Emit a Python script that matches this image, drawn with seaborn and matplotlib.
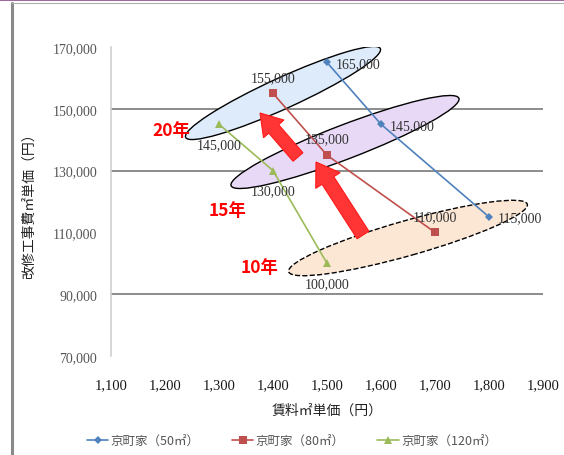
import numpy as np
import pandas as pd
import matplotlib
matplotlib.use("Agg")
import matplotlib.pyplot as plt
import seaborn as sns
from matplotlib.patches import Ellipse, FancyArrow
from matplotlib.lines import Line2D
from matplotlib.ticker import FuncFormatter

# ---------------- data ----------------
series_names = ["京町家（50㎡）", "京町家（80㎡）", "京町家（120㎡）"]
rent_50 = [1500, 1600, 1800]
cost_50 = [165000, 145000, 115000]
rent_80 = [1400, 1500, 1700]
cost_80 = [155000, 135000, 110000]
rent_120 = [1300, 1400, 1500]
cost_120 = [145000, 130000, 100000]
period_labels = ["20年", "15年", "10年"]
x_ticks = [1100, 1200, 1300, 1400, 1500, 1600, 1700, 1800, 1900]
y_ticks = [70000, 90000, 110000, 130000, 150000, 170000]
x_label = "賃料㎡単価（円）"
y_label = "改修工事費㎡単価（円）"

# ---------------- style ----------------
W, H = 564, 456
sns.set_theme(style="white")
plt.rcParams["font.family"] = ["Liberation Serif", "Noto Sans CJK JP", "DejaVu Sans"]
colors = ["#4f81bd", "#c0504d", "#9bbb59"]
markers = ["D", "s", "^"]
msizes = [4.5, 5.5, 6]

rows = []
for name, xs, ys in zip(series_names, [rent_50, rent_80, rent_120], [cost_50, cost_80, cost_120]):
    for x, y in zip(xs, ys):
        rows.append({"series": name, "rent": x, "cost": y})
df = pd.DataFrame(rows)

fig, ax = plt.subplots(figsize=(W / 100, H / 100), dpi=100)
fig.subplots_adjust(left=111 / W, right=543 / W, top=1 - 48 / H, bottom=1 - 357 / H)

def px(x, y):
    return (x / 100, (H - y) / 100)

# ellipses (drawn in pixel space so the rotation is exact)
ell_specs = [  # center, length, thickness, angle, face, linestyle
    ((283, 94), 214, 31, 24.5, "#deebfb", "-"),
    ((345, 143), 244, 34, 21.0, "#e8daf7", "-"),
    ((408, 239), 248, 35, 15.8, "#fce6d4", "--"),
]
for (cx, cy), L, T, ang, fc, ls in ell_specs:
    e = Ellipse(px(cx, cy), L / 100, T / 100, angle=ang, transform=fig.dpi_scale_trans,
                facecolor=fc, edgecolor="black", linewidth=1.0, linestyle=ls, zorder=1)
    ax.add_artist(e)

sns.lineplot(data=df, x="rent", y="cost", hue="series", style="series",
             palette=colors, markers=markers, dashes=False, sort=False,
             legend=False, ax=ax, linewidth=1.2, zorder=3, markeredgewidth=0)
for line, ms in zip(ax.get_lines(), msizes):
    line.set_markersize(ms)

# red arrows
for (tx, ty), (hx, hy), w, hw, hl in [((298, 158), (260, 114), 13, 27, 21),
                                      ((363, 236), (316, 163), 14, 29, 22)]:
    a = FancyArrow(tx / 100, (H - ty) / 100, (hx - tx) / 100, -(hy - ty) / 100,
                   width=w / 100, head_width=hw / 100, head_length=hl / 100,
                   length_includes_head=True, transform=fig.dpi_scale_trans,
                   facecolor="#ff3535", edgecolor="#ff1a1a", linewidth=0.8, zorder=5)
    ax.add_artist(a)

# data labels
lab_font = dict(fontsize=10, color="#333333", family=["Liberation Serif", "DejaVu Serif"], zorder=6)
for xs, ys, off, ha in [(rent_50, cost_50, (9, -1), "left"),
                        (rent_80, cost_80, (0, 16), "center"),
                        (rent_120, cost_120, (0, -20), "center")]:
    for x, y in zip(xs, ys):
        ax.annotate(f"{y:,}", (x, y), xytext=off, textcoords="offset pixels",
                    ha=ha, va="center", **lab_font)

# period texts
for t, (x, y) in zip(period_labels, [(171, 131), (228, 211), (260, 268)]):
    fig.text(x / W, 1 - y / H, t, color="#ff0000", fontsize=12.5, fontweight="bold",
             family=["Noto Sans CJK JP"], ha="center", va="center")

# axes
ax.set_xlim(x_ticks[0], x_ticks[-1])
ax.set_ylim(y_ticks[0], y_ticks[-1])
ax.set_xticks(x_ticks)
ax.set_yticks(y_ticks)
ax.xaxis.set_major_formatter(FuncFormatter(lambda v, p: f"{int(v):,}"))
ax.yaxis.set_major_formatter(FuncFormatter(lambda v, p: f"{int(v):,}"))
ax.tick_params(axis="x", labelsize=10.5, labelcolor="#1a1a1a", length=0, pad=16)
ax.tick_params(axis="y", labelsize=10, labelcolor="#555555", length=0, pad=10)
ax.grid(axis="y", color="#8c8c8c", linewidth=1.4, zorder=0)
ax.set_axisbelow(True)
for gl, v in zip(ax.yaxis.get_gridlines(), y_ticks):
    if v in (70000, 110000, 170000):
        gl.set_visible(False)
for s in ["top", "right", "bottom"]:
    ax.spines[s].set_visible(False)
ax.spines["left"].set_color("#d0d0d0")
ax.spines["left"].set_linewidth(1.2)

ax.set_xlabel(x_label, fontsize=10, color="#222222", family=["Noto Sans CJK JP"], labelpad=8)
ax.set_ylabel(y_label, fontsize=10, color="#222222", family=["Noto Sans CJK JP"], labelpad=12)

handles = [Line2D([0], [0], color=c, marker=m, markersize=ms, markeredgewidth=0, linewidth=1.2)
           for c, m, ms in zip(colors, markers, msizes)]
fig.legend(handles, series_names, loc="center", bbox_to_anchor=(292 / W, 1 - 442 / H),
           ncol=3, frameon=False, handlelength=1.7, handletextpad=0.2, columnspacing=2.6,
           prop={"family": ["Noto Sans CJK JP"], "size": 9}, labelcolor="#555555")

# page frame decorations
fig.add_artist(Line2D([12 / W, 12 / W], [0, 1 - 4 / H], transform=fig.transFigure,
                      color="#8a8a8a", linewidth=2.2))
fig.add_artist(Line2D([12 / W, 1], [1 - 3.5 / H, 1 - 3.5 / H], transform=fig.transFigure,
                      color="#b0b0b0", linewidth=0.8))
fig.add_artist(Line2D([0, 1], [1 - 0.5 / H, 1 - 0.5 / H], transform=fig.transFigure,
                      color="#8a4a8a", linewidth=1.2))

fig.savefig("out.png", dpi=100)
